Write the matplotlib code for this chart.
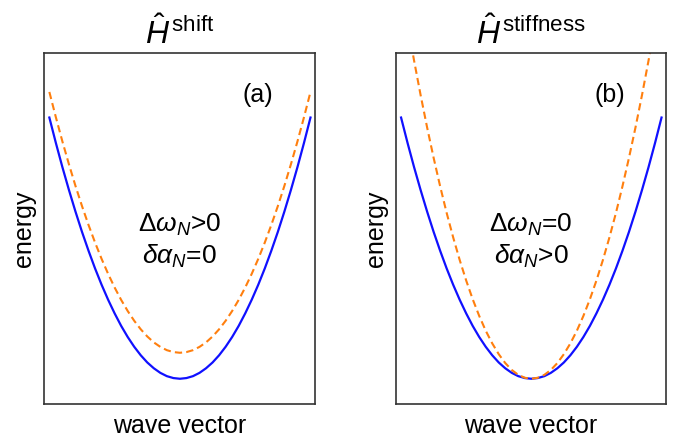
import matplotlib
matplotlib.use("Agg")
import matplotlib.pyplot as plt

plt.rcParams['font.family'] = ['Liberation Sans', 'DejaVu Sans']
plt.rcParams['mathtext.fontset'] = 'custom'
plt.rcParams['mathtext.rm'] = 'Liberation Sans'
plt.rcParams['mathtext.it'] = 'Liberation Sans:italic'

# wave vector (arb. units), one half, mirrored below
k_half = [0.0, 0.05, 0.1, 0.15, 0.2, 0.25, 0.3, 0.35, 0.4, 0.45, 0.5,
          0.55, 0.6, 0.65, 0.7, 0.75, 0.8, 0.85, 0.9, 0.95, 1.0]

# energies (arb. units), from k=0 outwards
e_ref = [0.253, 0.260, 0.279, 0.312, 0.358, 0.416, 0.488, 0.573, 0.671, 0.782, 0.907,
         1.044, 1.194, 1.357, 1.534, 1.723, 1.926, 2.142, 2.370, 2.612, 2.867]
e_shift = [0.513, 0.520, 0.539, 0.572, 0.617, 0.676, 0.748, 0.833, 0.931, 1.042, 1.166,
           1.303, 1.453, 1.616, 1.792, 1.981, 2.183, 2.399, 2.627, 2.869, 3.123]
e_stiff = [0.253, 0.263, 0.292, 0.341, 0.410, 0.499, 0.607, 0.734, 0.882, 1.049, 1.236,
           1.442, 1.668, 1.913, 2.179, 2.464, 2.768, 3.092, 3.436, 3.800, 4.183]

titles = [r'$\hat{H}^{\,\mathrm{shift}}$', r'$\hat{H}^{\,\mathrm{stiffness}}$']
tags = ['(a)', '(b)']
notes = [r'$\Delta\omega_N$>0' + '\n' + r'$\delta\alpha_N$=0',
         r'$\Delta\omega_N$=0' + '\n' + r'$\delta\alpha_N$>0']


def full(half):
    return half[::-1] + half[1:]


k = [-v for v in k_half[::-1]] + k_half[1:]
curves = [(full(e_ref), full(e_shift)), (full(e_ref), full(e_stiff))]

fig = plt.figure(figsize=(6.79, 4.44), dpi=100)
positions = [[0.065, 0.090, 0.399, 0.790], [0.583, 0.090, 0.398, 0.790]]

for i in range(2):
    ax = fig.add_axes(positions[i])
    blue, orange = curves[i]
    ax.plot(k, blue, color='#1010ff', lw=1.6)
    ax.plot(k, orange, color='#ff7f0e', lw=1.5, ls=(0, (3.5, 2)))
    ax.set_xlim(-1.04, 1.035)
    ax.set_ylim(0, 3.51)
    ax.set_xticks([])
    ax.set_yticks([])
    for s in ax.spines.values():
        s.set_color('#333333')
        s.set_linewidth(1.2)
    ax.set_xlabel('wave vector', fontsize=18, labelpad=7)
    ax.set_ylabel('energy', fontsize=18, labelpad=6)
    ax.set_title(titles[i], fontsize=23, pad=7)
    ax.text(0.79, 0.88, tags[i], transform=ax.transAxes, fontsize=18,
            ha='center', va='center')
    ax.text(0.5, 0.465, notes[i], transform=ax.transAxes, fontsize=19,
            ha='center', va='center', linespacing=1.2)

fig.savefig('out.png', dpi=100)
